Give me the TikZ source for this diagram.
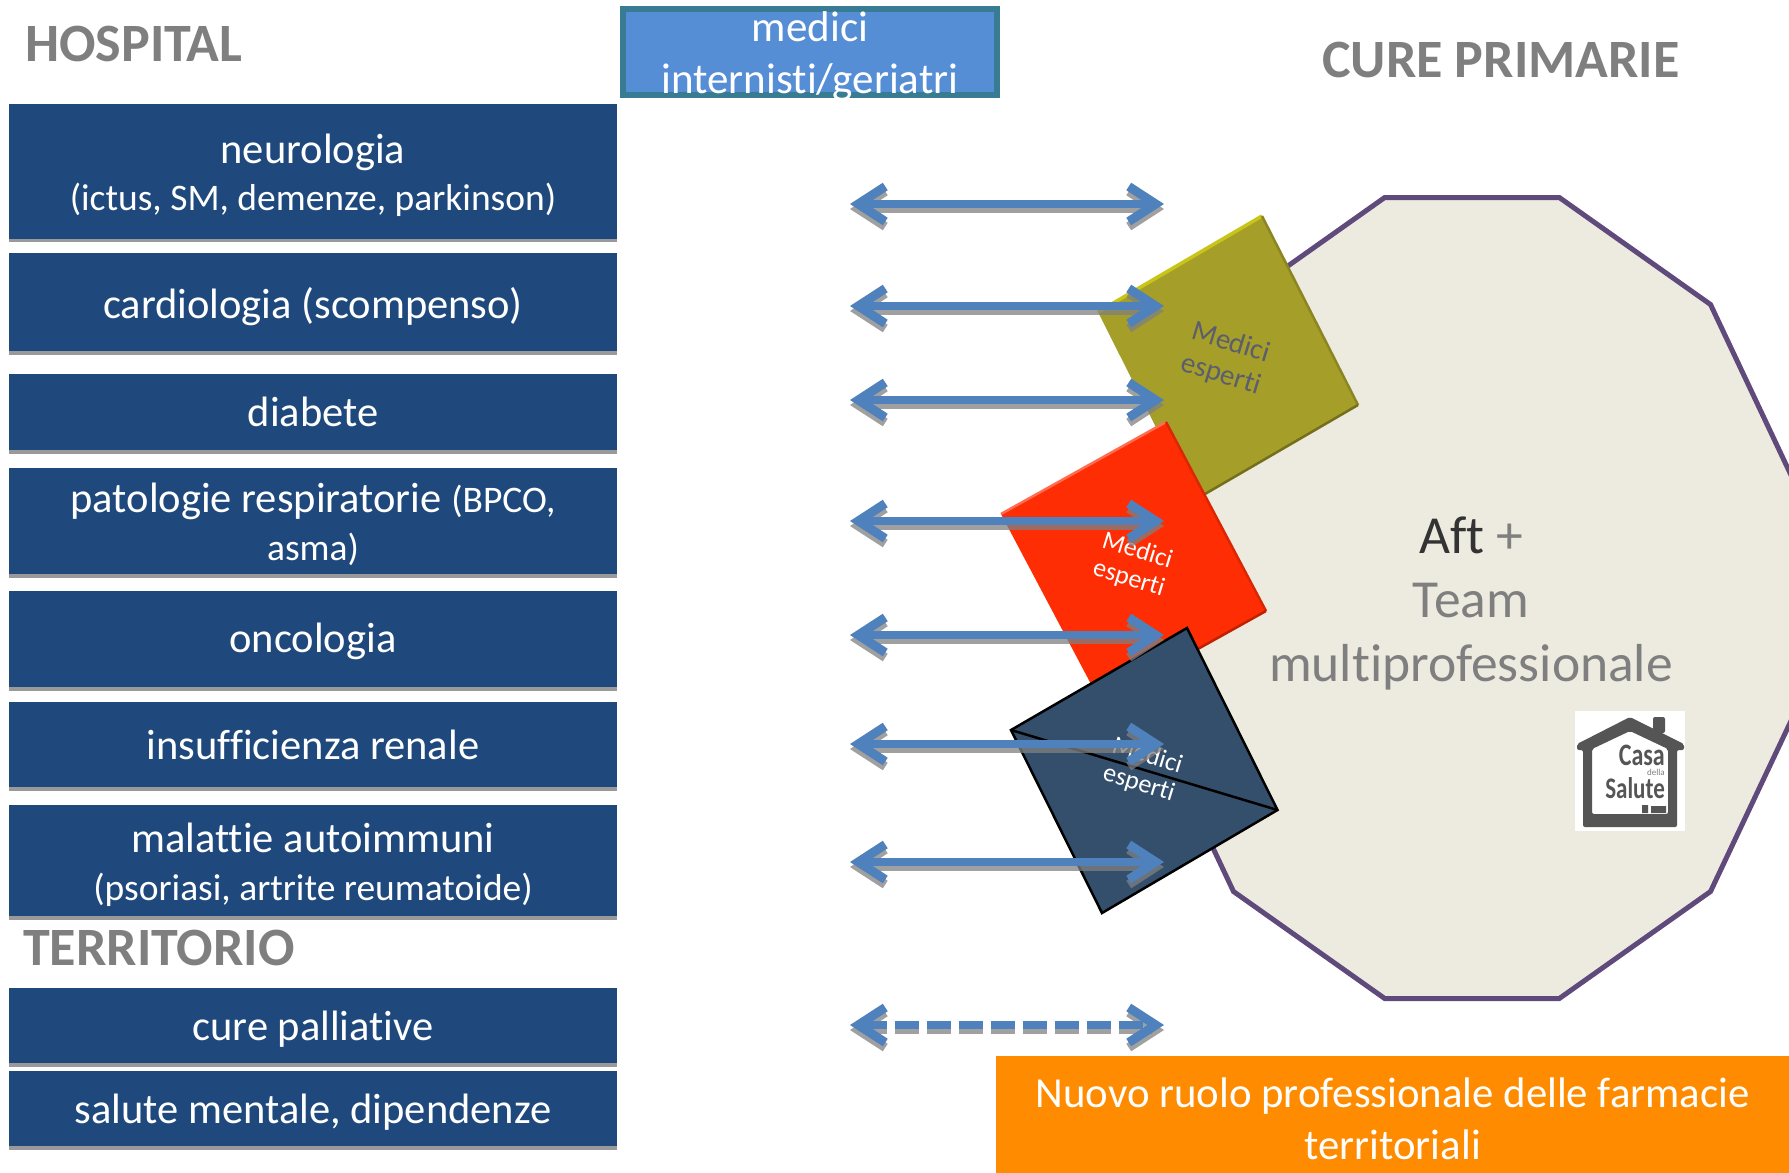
\documentclass[tikz,border=0pt]{standalone}
\usepackage{fontspec}
\setmainfont{Carlito}[Ligatures={NoCommon}]
\usetikzlibrary{arrows.meta,shadows}
\definecolor{boxblue}{HTML}{1F497D}
\definecolor{arrowblue}{HTML}{4F81BD}
\definecolor{headgray}{HTML}{7F7F7F}
\definecolor{aftfill}{HTML}{EDEBE0}
\definecolor{aftline}{HTML}{5F4A7B}
\definecolor{olivefill}{HTML}{A59E28}
\definecolor{olivetext}{HTML}{5A5E6E}
\definecolor{redfill}{HTML}{FF2D04}
\definecolor{navyfill}{HTML}{344F6B}
\definecolor{logogray}{HTML}{555555}
\definecolor{topfill}{HTML}{558ED5}
\definecolor{topline}{HTML}{387C94}
\definecolor{orangefill}{HTML}{FF8C00}
\tikzset{
  medbox/.style={fill=boxblue, text=white, minimum width=608pt, inner sep=0pt, outer sep=0pt, align=center,
    font=\fontsize{42.5}{48}\selectfont, drop shadow={shadow xshift=0pt, shadow yshift=-3.5pt, fill=gray, opacity=0.8}},
  head/.style={text=headgray, anchor=west, inner sep=0pt, font=\fontsize{54}{58}\selectfont\bfseries},
  expert/.style={align=center, rotate=-17, inner sep=0pt, font=\fontsize{26}{29}\selectfont},
  dual/.style={line width=8.5pt, {Straight Barb[length=27pt,width=35pt,line width=9pt,sharp]}-{Straight Barb[length=27pt,width=35pt,line width=9pt,sharp]}},
  dualshadow/.style={dual, draw=gray, draw opacity=0.75},
}
\newcommand{\subsize}{\fontsize{37.5}{48}\selectfont}
\newcommand{\lowered}[2]{\raisebox{-#1pt}[\height][\depth]{#2}}
\begin{document}
\begin{tikzpicture}[x=1pt,y=-1pt]
    \useasboundingbox (0,0) rectangle (1789,1173);
    \clip (0,0) rectangle (1789,1173);
    % headings
    \node[head] (hospital) at (25,44) {HOSPITAL};
    \node[head] (cure) at (1322,60) {CURE PRIMARIE};
    \node[head] (territorio) at (23,948) {TERRITORIO};
    % hospital column
    \node[medbox, minimum height=135pt] (neuro) at (313,171) {\lowered{4.5}{neurologia}\\\lowered{4}{\subsize (ictus, SM, demenze, parkinson)}};
    \node[medbox, minimum height=98pt] (cardio) at (313,302) {\lowered{4.5}{cardiologia (scompenso)}};
    \node[medbox, minimum height=76pt] (diabete) at (313,412) {diabete};
    \node[medbox, minimum height=106pt] (respiro) at (313,521) {\lowered{3.5}{patologie respiratorie {\subsize (BPCO,}}\\\lowered{3.5}{\subsize asma)}};
    \node[medbox, minimum height=96pt] (onco) at (313,639) {\lowered{2.5}{oncologia}};
    \node[medbox, minimum height=85pt] (renale) at (313,744.5) {insufficienza renale};
    \node[medbox, minimum height=111pt] (autoimm) at (313,860.5) {\lowered{4.5}{malattie autoimmuni}\\\lowered{4}{\subsize (psoriasi, artrite reumatoide)}};
    \node[medbox, minimum height=75pt] (palliative) at (313,1025.5) {\lowered{3.5}{cure palliative}};
    \node[medbox, minimum height=75pt] (mentale) at (313,1108.5) {\lowered{3.5}{salute mentale, dipendenze}};
    % internists
    \node[draw=topline, line width=6pt, fill=topfill, minimum width=374pt, minimum height=86pt, inner sep=0pt] (internisti) at (810,52) {};
    \begin{scope}
        \clip (620,6) rectangle (1000,98);
        \node[text=white, inner sep=0pt, align=center, font=\fontsize{43}{52}\selectfont] (internistilabel) at (810,56) {medici\\internisti/geriatri};
    \end{scope}
    % primary care
    \filldraw[fill=aftfill, draw=aftline, line width=5pt] (1559.3,197.5) -- (1710.5,304.5) -- (1798.5,491) -- (1798.5,705) -- (1710.5,891.5) -- (1559.3,998.5)
        -- (1384.7,998.5) -- (1233.5,891.5) -- (1145.5,705) -- (1145.5,491) -- (1233.5,304.5) -- (1384.7,197.5) -- cycle;
    \node[inner sep=0pt, text=black!80, font=\fontsize{53.5}{64}\selectfont] (aft) at (1471,535) {Aft {\color{headgray}+}};
    \node[inner sep=0pt, text=headgray, font=\fontsize{53.5}{64}\selectfont, align=center] (team) at (1471,637) {Team\\multiprofessionale};
    % house
    \node[fill=white, minimum width=110pt, minimum height=120pt, inner sep=0pt] (logo) at (1630,771) {};
    \fill[logogray, rounded corners=2pt] (1653,717) -- (1665,717) -- (1665,733) -- (1653,733) -- cycle;
    \fill[logogray, rounded corners=2pt, even odd rule] (1630,717) -- (1684,744) -- (1684,750) -- (1677,750) -- (1677,827) -- (1583,827) -- (1583,750) -- (1577,750) -- (1577,744) -- cycle
        (1630,731) -- (1668,749) -- (1668,814) -- (1592,814) -- (1592,749) -- cycle;
    \node[anchor=east, inner sep=0pt, yscale=1.3, text=logogray, font=\fontsize{24}{24}\selectfont\bfseries] (casa) at (1665,755) {Casa};
    \node[anchor=east, inner sep=0pt, text=gray, font=\fontsize{9}{9}\selectfont] (della) at (1665,772) {della};
    \node[anchor=east, inner sep=0pt, yscale=1.3, text=logogray, font=\fontsize{23}{23}\selectfont\bfseries] (salute) at (1665,788) {Salute};
    \fill[logogray] (1642,805) rectangle (1648,813) (1651,806) rectangle (1666,813);
    % olive
    \coordinate (olT) at (1262,216); \coordinate (olR) at (1358,405);
    \coordinate (olB) at (1193,501); \coordinate (olL) at (1098,312);
    \fill[olivefill] (olT) -- (olR) -- (olB) -- (olL) -- cycle;
    \draw[olivefill!60!yellow, line width=3.5pt] (olL) -- (olT);
    \draw[olivefill!85!black, line width=2.5pt] (olT) -- (olR);
    \draw[olivefill!70!black, line width=2.5pt] (olR) -- (olB);
    % red
    \coordinate (reT) at (1166,422); \coordinate (reR) at (1266,611);
    \coordinate (reB) at (1101,703); \coordinate (reL) at (1001,514);
    \fill[redfill] (reT) -- (reR) -- (reB) -- (reL) -- cycle;
    \draw[redfill!70!white, line width=2.5pt] (reL) -- (reT);
    \draw[redfill!85!black, line width=2.5pt] (reT) -- (reR);
    \draw[redfill!75!black, line width=2.5pt] (reR) -- (reB);
    % navy
    \coordinate (naT) at (1187,628); \coordinate (naR) at (1277.5,810);
    \coordinate (naB) at (1102,913); \coordinate (naL) at (1011,730);
    \filldraw[fill=navyfill, draw=black, line width=2.5pt] (naT) -- (naR) -- (naB) -- (naL) -- cycle;
    \draw[black, line width=2.5pt] (naL) -- (naR);
    \node[expert, text=olivetext, font=\fontsize{29}{33}\selectfont] (esperti1) at (1226,359) {Medici\\esperti};
    \node[expert, text=white] (esperti2) at (1133,565) {Medici\\esperti};
    \node[expert, text=white] (esperti3) at (1143,770) {Medici\\esperti};
    % links
    \foreach \i/\y in {1/204,2/306,3/400,4/521,5/635,6/744,7/862} {
        \coordinate (linkL\i) at (850,\y);
        \coordinate (linkR\i) at (1164,\y);
        \draw[dualshadow] ([yshift=-5pt]linkL\i) -- ([yshift=-5pt]linkR\i);
        \draw[dual, draw=arrowblue] (linkL\i) -- (linkR\i);
    }
    \coordinate (linkL8) at (850,1025);
    \coordinate (linkR8) at (1164,1025);
    \draw[dualshadow, dash pattern=on 24pt off 8pt] ([yshift=-5pt]linkL8) -- ([yshift=-5pt]linkR8);
    \draw[dual, draw=arrowblue, dash pattern=on 24pt off 8pt] (linkL8) -- (linkR8);
    % pharmacies
    \node[fill=orangefill, text=white, anchor=north west, minimum width=793pt, minimum height=117pt,
        inner sep=0pt, align=center, font=\fontsize{42.8}{52}\selectfont] (farmacie) at (996,1056) {\lowered{4.5}{Nuovo ruolo professionale delle farmacie}\\\lowered{4.5}{territoriali}};
\end{tikzpicture}
\end{document}
